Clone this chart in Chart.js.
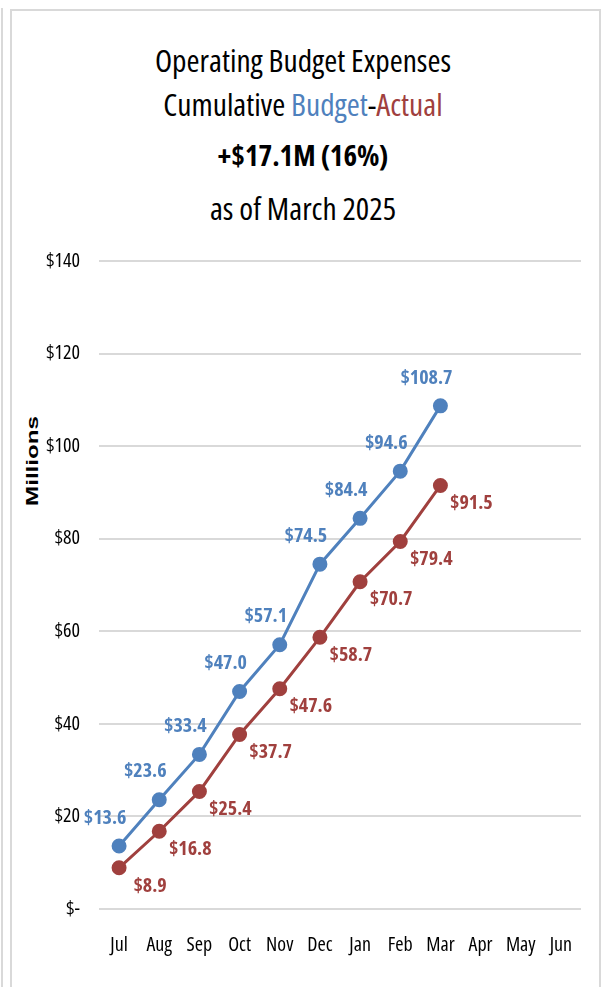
<!DOCTYPE html>
<html>
<head>
<meta charset="utf-8">
<script src="https://cdn.jsdelivr.net/npm/chart.js@4"></script>
<style>
  html, body { margin: 0; padding: 0; background: #fff; }
  #wrap { position: relative; width: 601px; height: 987px; overflow: hidden; }
  #frame { position: absolute; left: 10px; top: 9px; width: 587px; height: 990px;
           border: 2px solid #d9d9d9; border-bottom: none; }
  #edge { position: absolute; left: 1px; top: 8px; width: 2px; height: 990px; background: #d9d9d9; }
  .t { position: absolute; left: 0; width: 606px; text-align: center; color: #000; white-space: nowrap;
       font-family: "Open Sans", sans-serif; font-stretch: condensed; font-size: 31.5px; line-height: 34px; }
  #ytitle { position: absolute; left: 33px; top: 461px; width: 0; height: 0; }
  #ytitle span { position: absolute; left: 0; top: 0; white-space: nowrap; color: #000;
       font: bold 17px "Liberation Sans", Arial, sans-serif;
       transform: translate(-50%, -50%) rotate(-90deg) scaleX(1.42); }
  #chartBox { position: absolute; left: 0; top: 0; width: 601px; height: 987px; }
</style>
</head>
<body>
<div id="wrap">
  <div id="edge"></div>
  <div id="frame"></div>
  <div class="t" style="top:43px">Operating Budget Expenses</div>
  <div class="t" style="top:87px">Cumulative <span style="color:#4f81bd">Budget</span>-<span style="color:#a0403e">Actual</span></div>
  <div class="t" style="top:138px;font-weight:bold;font-size:29px">+$17.1M (16%)</div>
  <div class="t" style="top:191px">as of March 2025</div>
  <div id="ytitle"><span>Millions</span></div>
  <div id="chartBox"><canvas id="budgetChart"></canvas></div>
</div>
<script>
const months = ['Jul', 'Aug', 'Sep', 'Oct', 'Nov', 'Dec', 'Jan', 'Feb', 'Mar', 'Apr', 'May', 'Jun'];
const budget = [13.6, 23.6, 33.4, 47.0, 57.1, 74.5, 84.4, 94.6, 108.7, null, null, null];
const actual = [8.9, 16.8, 25.4, 37.7, 47.6, 58.7, 70.7, 79.4, 91.5, null, null, null];

const blue = '#4f81bd';
const red = '#a0403e';

// Excel style data labels: budget above-left, actual below-right
const labelOffsets = [{ dx: -14, dy: -28 }, { dx: 31, dy: 18 }];

// narrow (Calibri-like) text on the canvas: every font set also turns on condensed
const fontProp = Object.getOwnPropertyDescriptor(CanvasRenderingContext2D.prototype, 'font');
Object.defineProperty(CanvasRenderingContext2D.prototype, 'font', {
    get() { return fontProp.get.call(this); },
    set(v) { fontProp.set.call(this, v); this.fontStretch = 'condensed'; }
});

const pointLabels = {
    id: 'pointLabels',
    afterDatasetsDraw(chart) {
        const ctx = chart.ctx;
        ctx.save();
        ctx.font = 'bold 20px "Open Sans"';
        ctx.textAlign = 'center';
        ctx.textBaseline = 'middle';
        chart.data.datasets.forEach((ds, i) => {
            const meta = chart.getDatasetMeta(i);
            ctx.fillStyle = ds.borderColor;
            meta.data.forEach((pt, j) => {
                const v = ds.data[j];
                if (v == null) return;
                ctx.fillText('$' + v.toFixed(1), pt.x + labelOffsets[i].dx, pt.y + labelOffsets[i].dy);
            });
        });
        ctx.restore();
    }
};

new Chart(document.getElementById('budgetChart'), {
    type: 'line',
    data: {
        labels: months,
        datasets: [{
            label: 'Budget',
            data: budget,
            borderColor: blue,
            backgroundColor: blue,
            borderWidth: 3,
            pointRadius: 6,
            pointHoverRadius: 6,
            tension: 0
        }, {
            label: 'Actual',
            data: actual,
            borderColor: red,
            backgroundColor: red,
            borderWidth: 3,
            pointRadius: 6,
            pointHoverRadius: 6,
            tension: 0
        }]
    },
    options: {
        responsive: true,
        maintainAspectRatio: false,
        animation: false,
        layout: { padding: { top: 261, right: 20, bottom: 14, left: 0 } },
        plugins: {
            legend: { display: false },
            tooltip: { enabled: false }
        },
        scales: {
            x: {
                offset: true,
                grid: { display: false },
                border: { display: false },
                ticks: {
                    color: '#000', padding: 16, maxRotation: 0, autoSkip: false,
                    font: { family: '"Open Sans"', size: 20 }
                }
            },
            y: {
                min: 0,
                max: 140,
                afterFit(scale) { scale.width = 99; },
                grid: { color: '#d9d9d9', lineWidth: 2, drawTicks: false },
                border: { display: false },
                ticks: {
                    stepSize: 20,
                    padding: 19,
                    color: '#000',
                    font: { family: '"Open Sans"', size: 20 },
                    callback: v => v === 0 ? '$-' : '$' + v
                }
            }
        }
    },
    plugins: [pointLabels]
});
</script>
</body>
</html>
